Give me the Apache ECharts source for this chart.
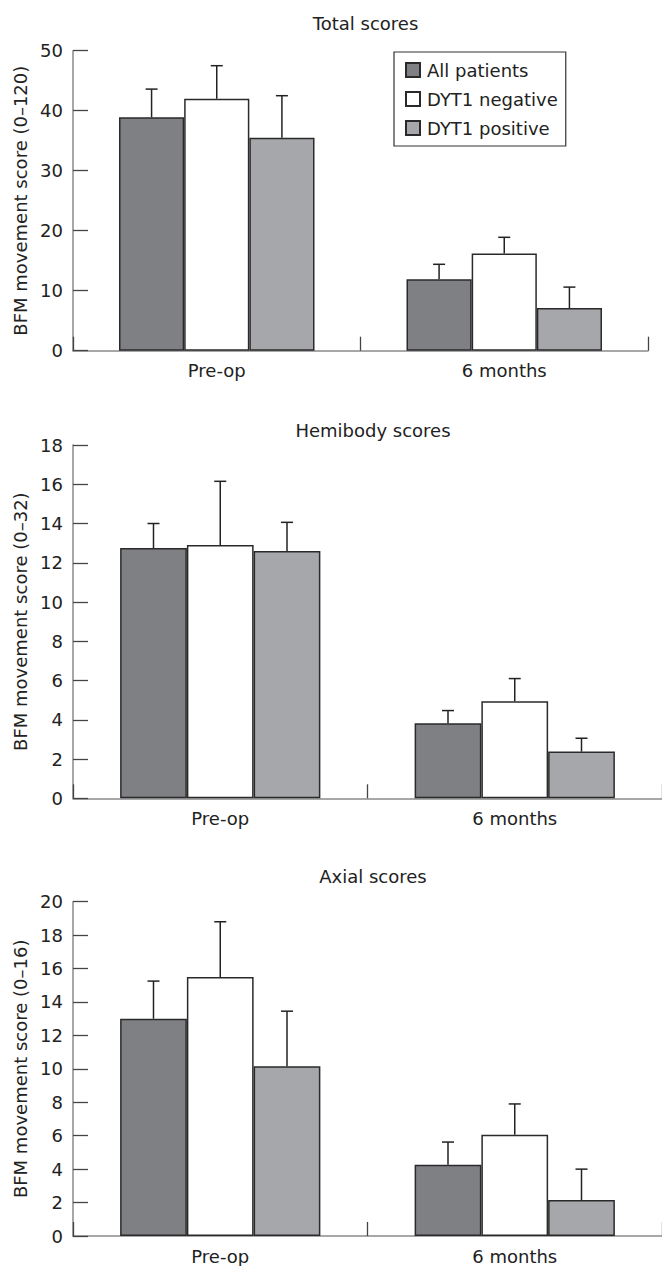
<!DOCTYPE html>
<html>
<head>
<meta charset="utf-8">
<script src="https://cdn.jsdelivr.net/npm/echarts@6/dist/echarts.min.js"></script>
<style>
  html, body { margin: 0; padding: 0; background: #fff; }
  #chart { width: 662px; height: 1266px; }
</style>
</head>
<body>
<div id="chart"></div>
<script>
// ---- Data ----
var categories = ['Pre-op', '6 months'];
var seriesNames = ['All patients', 'DYT1 negative', 'DYT1 positive'];

// Total scores (0–120)
var totalAll = [38.9, 11.9];
var totalAllTop = [43.6, 14.4];
var totalNeg = [42.0, 16.2];
var totalNegTop = [47.5, 18.9];
var totalPos = [35.5, 7.1];
var totalPosTop = [42.5, 10.6];

// Hemibody scores (0–32)
var hemiAll = [12.75, 3.82];
var hemiAllTop = [14.0, 4.47];
var hemiNeg = [12.9, 4.95];
var hemiNegTop = [16.15, 6.1];
var hemiPos = [12.6, 2.38];
var hemiPosTop = [14.06, 3.06];

// Axial scores (0–16)
var axialAll = [13.0, 4.27];
var axialAllTop = [15.25, 5.62];
var axialNeg = [15.5, 6.05];
var axialNegTop = [18.8, 7.9];
var axialPos = [10.15, 2.15];
var axialPosTop = [13.45, 4.0];

var panelTitles = ['Total scores', 'Hemibody scores', 'Axial scores'];
var axisNames = ['BFM movement score (0\u2013120)', 'BFM movement score (0\u201332)', 'BFM movement score (0\u201316)'];
var yMax = [50, 18, 20];
var yInterval = [10, 2, 2];

// ---- Styling ----
var FONT = 'DejaVu Sans';
var fills = ['#7f8084', '#ffffff', '#a6a7aa'];
var CAT_GAP = 0.32;

var panels = [
  { means: [totalAll, totalNeg, totalPos], tops: [totalAllTop, totalNegTop, totalPosTop] },
  { means: [hemiAll, hemiNeg, hemiPos], tops: [hemiAllTop, hemiNegTop, hemiPosTop] },
  { means: [axialAll, axialNeg, axialPos], tops: [axialAllTop, axialNegTop, axialPosTop] }
];

var grids = [
  { left: 73, top: 50.7, width: 575, height: 300 },
  { left: 73, top: 445, width: 590, height: 353.3 },
  { left: 73, top: 901.7, width: 590, height: 334.3 }
];
var titleY = [9, 416, 862];

var xAxes = [], yAxes = [], series = [], titles = [];
grids.forEach(function (g, i) {
  titles.push({
    text: panelTitles[i],
    left: g.left + g.width / 2,
    top: titleY[i],
    textAlign: 'center',
    textStyle: { fontFamily: FONT, fontSize: 18, fontWeight: 'normal', color: '#222' }
  });
  xAxes.push({
    type: 'category', gridIndex: i, data: categories,
    axisLine: { lineStyle: { color: '#8a8a8a', width: 1.5 } },
    axisTick: { show: true, inside: true, length: 14, lineStyle: { color: '#444', width: 1.3 } },
    axisLabel: { margin: 11, fontFamily: FONT, fontSize: 18, color: '#222' }
  });
  yAxes.push({
    type: 'value', gridIndex: i, min: 0, max: yMax[i], interval: yInterval[i],
    name: axisNames[i], nameLocation: 'middle', nameGap: 44, nameRotate: 90,
    nameTextStyle: { fontFamily: FONT, fontSize: 18, color: '#222' },
    axisLine: { show: true, lineStyle: { color: '#8a8a8a', width: 1.5 } },
    axisTick: { show: true, inside: true, length: 15, lineStyle: { color: '#444', width: 1.3 } },
    axisLabel: { margin: 10, fontFamily: FONT, fontSize: 18, color: '#222' },
    splitLine: { show: false }
  });
  var p = panels[i];
  for (var k = 0; k < 3; k++) {
    series.push({
      name: seriesNames[k], type: 'bar', xAxisIndex: i, yAxisIndex: i,
      data: p.means[k], barGap: 0, barCategoryGap: (CAT_GAP * 100) + '%',
      itemStyle: { color: fills[k], borderColor: '#2a2a2a', borderWidth: 1.5 },
      emphasis: { disabled: true }, z: 2
    });
  }
  for (var k2 = 0; k2 < 3; k2++) {
    (function (k) {
      var d = categories.map(function (c, j) { return [j, p.means[k][j], p.tops[k][j]]; });
      series.push({
        type: 'custom', xAxisIndex: i, yAxisIndex: i, data: d, z: 5,
        encode: { x: 0, y: [1, 2] },
        renderItem: function (params, api) {
          var c = api.value(0);
          var p0 = api.coord([c, api.value(1)]);
          var p1 = api.coord([c, api.value(2)]);
          var band = api.size([1, 0])[0];
          var bw = band * (1 - CAT_GAP) / 3;
          var x = p0[0] + (k - 1) * bw;
          var st = { stroke: '#222', lineWidth: 1.5 };
          return {
            type: 'group',
            children: [
              { type: 'line', shape: { x1: x, y1: p0[1], x2: x, y2: p1[1] }, style: st },
              { type: 'line', shape: { x1: x - 6, y1: p1[1], x2: x + 6, y2: p1[1] }, style: st }
            ]
          };
        }
      });
    })(k2);
  }
});

var chart = echarts.init(document.getElementById('chart'), null, { renderer: 'svg' });
chart.setOption({
  animation: false,
  backgroundColor: '#fff',
  title: titles,
  legend: {
    data: seriesNames, orient: 'vertical', left: 394, top: 52,
    padding: [9, 8, 9, 11], itemGap: 11, itemWidth: 14, itemHeight: 14,
    icon: 'rect', borderColor: '#333', borderWidth: 1.2,
    textStyle: { fontFamily: FONT, fontSize: 18, color: '#222', padding: [0, 0, 0, 2] },
    selectedMode: false
  },
  grid: grids,
  xAxis: xAxes,
  yAxis: yAxes,
  series: series
});
</script>
</body>
</html>
